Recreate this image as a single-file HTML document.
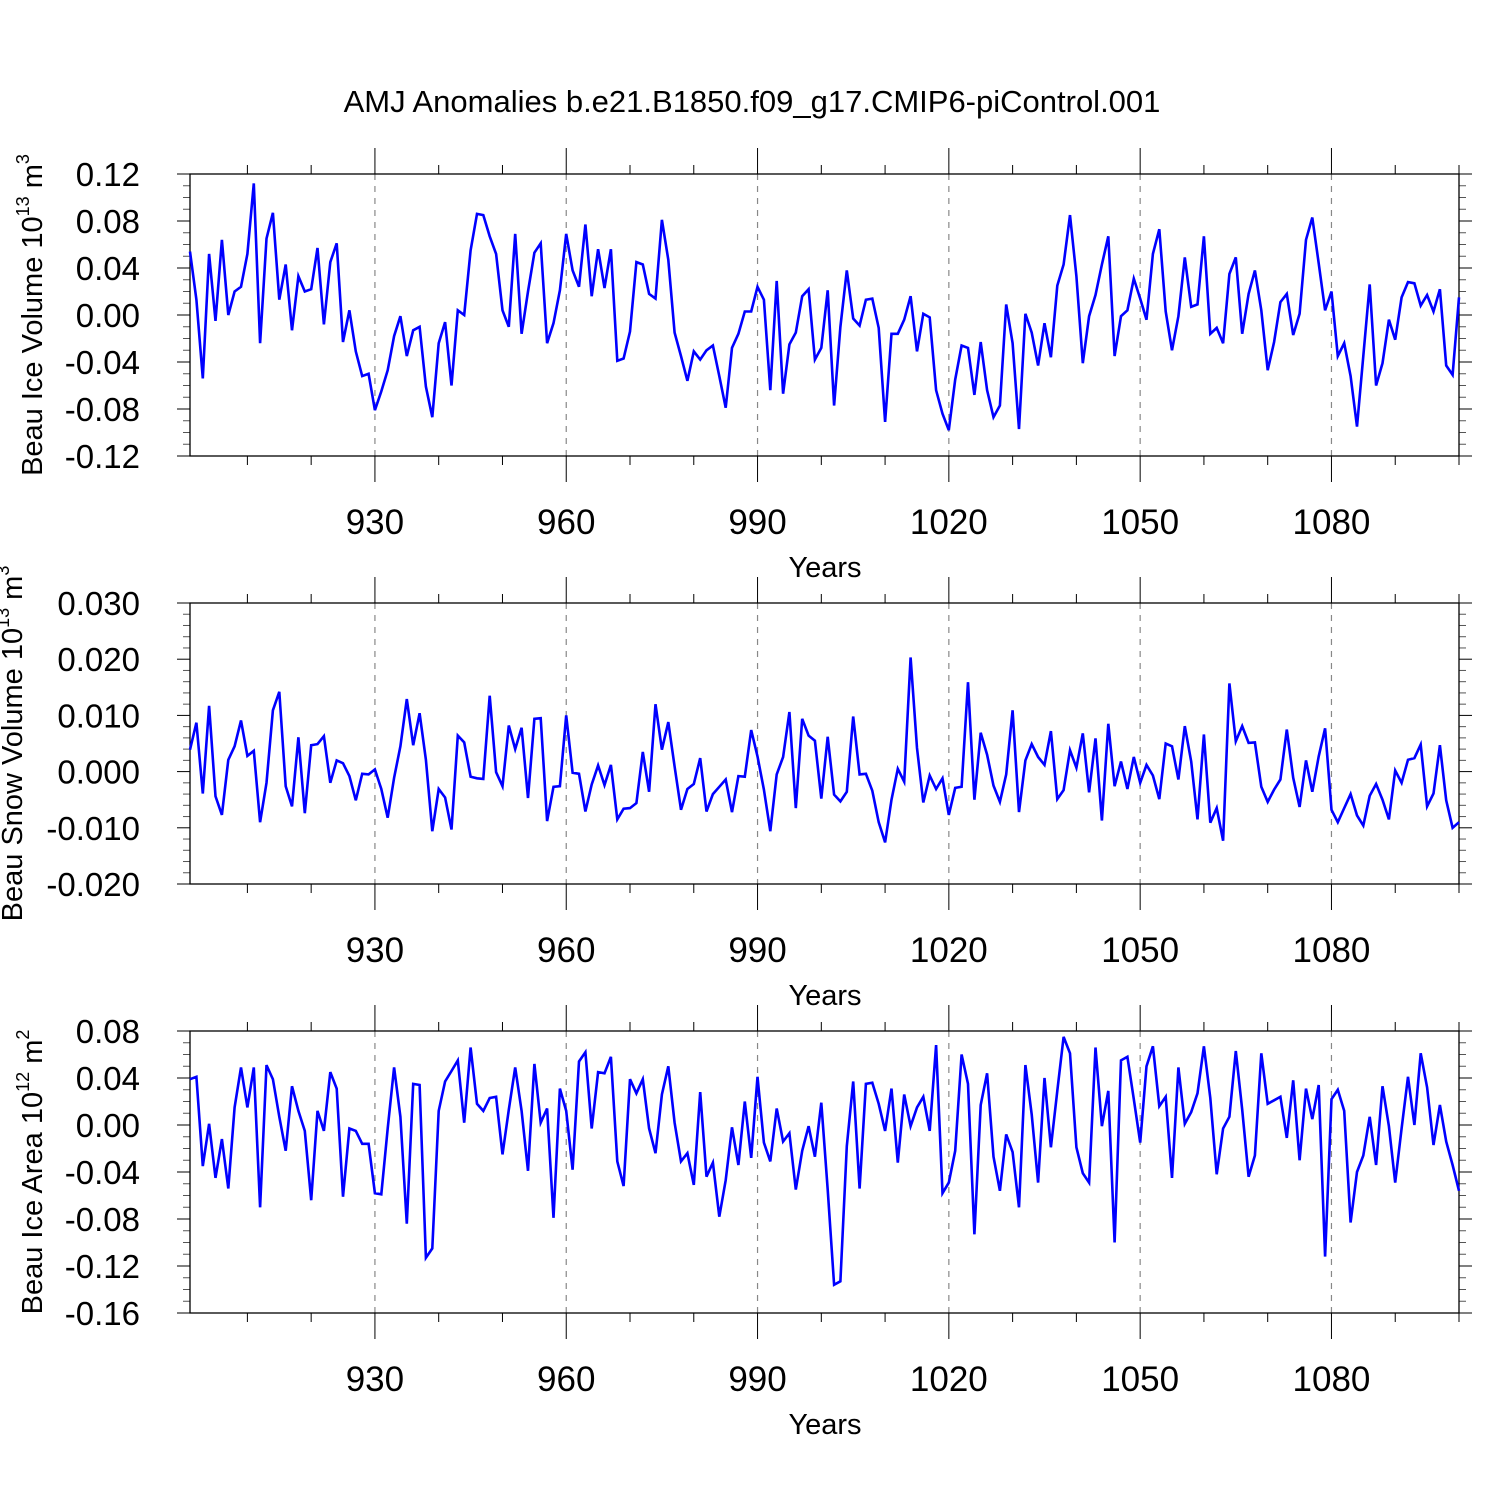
<!DOCTYPE html>
<html><head><meta charset="utf-8"><style>
html,body{margin:0;padding:0;background:#fff}
svg{display:block;font-family:"Liberation Sans",sans-serif}
</style></head><body>
<svg id="chart" width="1500" height="1500" viewBox="0 0 1500 1500">
<text x="752" y="112" font-size="31" text-anchor="middle">AMJ Anomalies b.e21.B1850.f09_g17.CMIP6-piControl.001</text>
</svg>
<script>
const years = [];
for (let y = 901; y <= 1100; y++) years.push(y);
const xTickLabels = [930, 960, 990, 1020, 1050, 1080];
const iceVolume = [0.054,0.013,-0.054,0.052,-0.005,0.064,0.000,0.020,0.024,0.052,0.112,-0.024,0.065,0.087,0.013,0.043,-0.013,0.033,0.020,0.022,0.057,-0.008,0.045,0.061,-0.023,0.004,-0.031,-0.052,-0.050,-0.081,-0.065,-0.047,-0.018,-0.001,-0.035,-0.013,-0.010,-0.061,-0.087,-0.024,-0.006,-0.060,0.004,0.000,0.055,0.086,0.085,0.067,0.052,0.004,-0.010,0.069,-0.016,0.020,0.053,0.061,-0.024,-0.007,0.021,0.069,0.038,0.024,0.077,0.016,0.056,0.023,0.056,-0.039,-0.037,-0.014,0.045,0.043,0.018,0.014,0.081,0.047,-0.015,-0.035,-0.056,-0.031,-0.038,-0.030,-0.026,-0.052,-0.079,-0.028,-0.016,0.003,0.003,0.024,0.013,-0.064,0.029,-0.067,-0.025,-0.015,0.016,0.022,-0.038,-0.028,0.021,-0.077,-0.010,0.038,-0.003,-0.009,0.013,0.014,-0.011,-0.091,-0.016,-0.016,-0.004,0.016,-0.031,0.001,-0.002,-0.064,-0.084,-0.098,-0.055,-0.026,-0.028,-0.068,-0.023,-0.064,-0.087,-0.077,0.009,-0.024,-0.097,0.001,-0.015,-0.043,-0.007,-0.036,0.025,0.043,0.085,0.033,-0.041,-0.001,0.017,0.043,0.067,-0.035,-0.001,0.004,0.031,0.014,-0.004,0.052,0.073,0.003,-0.030,-0.001,0.049,0.007,0.009,0.067,-0.016,-0.011,-0.024,0.035,0.049,-0.016,0.018,0.038,0.004,-0.047,-0.023,0.011,0.018,-0.017,0.001,0.064,0.083,0.044,0.004,0.020,-0.035,-0.024,-0.052,-0.095,-0.035,0.026,-0.060,-0.041,-0.004,-0.021,0.015,0.028,0.027,0.008,0.017,0.003,0.022,-0.043,-0.051,0.015];
const snowVolume = [3.9,8.7,-3.9,11.7,-4.4,-7.7,2.1,4.5,9.1,2.8,3.7,-9.0,-2.0,10.9,14.2,-2.6,-6.2,6.1,-7.4,4.7,4.9,6.3,-2.0,2.0,1.5,-0.8,-5.1,-0.4,-0.5,0.4,-3.1,-8.2,-1.1,4.5,12.9,4.7,10.4,2.1,-10.6,-3.1,-4.6,-10.3,6.4,5.2,-0.9,-1.2,-1.3,13.5,-0.1,-2.6,8.2,4.0,7.8,-4.7,9.4,9.5,-8.8,-2.7,-2.6,10.0,-0.2,-0.4,-7.1,-2.3,1.1,-2.4,1.2,-8.5,-6.6,-6.5,-5.6,3.5,-3.6,12.0,3.9,8.8,0.9,-6.8,-3.1,-2.2,2.4,-7.1,-4.0,-2.7,-1.4,-7.2,-0.8,-0.9,7.4,2.7,-3.2,-10.6,-0.5,2.6,10.6,-6.5,9.4,6.4,5.5,-4.8,6.2,-4.1,-5.3,-3.6,9.8,-0.5,-0.4,-3.4,-9.0,-12.6,-5.0,0.5,-1.8,20.3,4.2,-5.5,-0.7,-3.1,-1.2,-7.7,-2.9,-2.7,15.9,-5.0,6.9,3.0,-2.5,-5.4,-0.5,10.9,-7.2,2.0,4.9,2.6,1.2,7.2,-4.9,-3.3,3.8,0.7,6.8,-3.7,5.9,-8.7,8.5,-2.6,1.8,-3.1,2.6,-2.0,1.2,-0.7,-4.9,5.0,4.5,-1.4,8.1,1.8,-8.5,6.6,-9.1,-6.5,-12.3,15.7,5.4,8.1,5.1,5.2,-2.7,-5.4,-3.2,-1.4,7.5,-1.1,-6.3,2.0,-3.6,2.7,7.7,-6.8,-9.0,-6.5,-4.0,-7.8,-9.6,-4.3,-2.2,-5.0,-8.5,0.2,-2.0,2.1,2.4,4.8,-6.2,-3.9,4.7,-5.1,-10.0,-9.0].map(v => v / 1000);
const iceArea = [3.9,4.1,-3.5,0.1,-4.5,-1.2,-5.4,1.5,4.9,1.5,4.9,-7.0,5.1,3.9,0.7,-2.2,3.3,1.2,-0.5,-6.4,1.2,-0.5,4.5,3.1,-6.1,-0.3,-0.5,-1.6,-1.6,-5.8,-5.9,-0.3,4.9,0.7,-8.4,3.5,3.4,-11.3,-10.5,1.2,3.7,4.6,5.5,0.2,6.6,1.8,1.2,2.3,2.4,-2.5,1.3,4.9,1.2,-3.9,5.2,0.2,1.4,-7.9,3.1,1.2,-3.8,5.4,6.2,-0.3,4.5,4.4,5.8,-3.1,-5.2,3.9,2.7,3.9,-0.3,-2.4,2.6,5.0,0.2,-3.1,-2.4,-5.1,2.8,-4.4,-3.2,-7.8,-4.7,-0.2,-3.4,2.0,-2.8,4.1,-1.5,-3.1,1.4,-1.4,-0.7,-5.5,-2.2,-0.1,-2.7,1.9,-5.5,-13.6,-13.3,-1.8,3.7,-5.4,3.5,3.6,1.8,-0.5,3.1,-3.2,2.6,-0.1,1.5,2.4,-0.5,6.8,-5.8,-4.9,-2.2,6.0,3.5,-9.3,1.7,4.4,-2.7,-5.6,-0.8,-2.3,-7.0,5.1,0.9,-4.9,4.0,-1.9,2.9,7.5,6.1,-1.9,-4.1,-4.9,6.6,-0.1,2.9,-10.0,5.5,5.8,2.2,-1.5,5.0,6.7,1.6,2.4,-4.5,4.9,0.1,1.1,2.7,6.7,2.3,-4.2,-0.3,0.7,6.3,1.3,-4.4,-2.6,6.1,1.8,2.1,2.4,-1.1,3.8,-3.0,3.1,0.5,3.4,-11.2,2.2,3.0,1.2,-8.3,-4.0,-2.6,0.7,-3.4,3.3,-0.1,-4.9,-0.3,4.1,0.0,6.1,3.2,-1.7,1.7,-1.4,-3.4,-5.6].map(v => v / 100);
const ticks1 = ["0.12","0.08","0.04","0.00","-0.04","-0.08","-0.12"];
const ticks2 = ["0.030","0.020","0.010","0.000","-0.010","-0.020"];
const ticks3 = ["0.08","0.04","0.00","-0.04","-0.08","-0.12","-0.16"];

const NS = "http://www.w3.org/2000/svg";
const svg = document.getElementById('chart');
const X0 = 190, X1 = 1459, YR0 = 901, YR1 = 1100;
function xScale(yr){ return X0 + (yr - YR0) * (X1 - X0) / (YR1 - YR0); }
function mk(tag, attrs, parent){
  const e = document.createElementNS(NS, tag);
  for (const k in attrs) e.setAttribute(k, attrs[k]);
  (parent || svg).appendChild(e);
  return e;
}
function panel(cfg){
  const g = mk('g', {});
  
  
  const top = cfg.top, bot = cfg.bot, vmax = cfg.vmax, vmin = cfg.vmin;
  const yScale = v => top + (vmax - v) * (bot - top) / (vmax - vmin);
  xTickLabels.forEach(t => {
    const l = mk('line', {x1: xScale(t), x2: xScale(t), y1: top, y2: bot, stroke: '#888', 'stroke-width': 1.2, 'stroke-dasharray': '6,6'}, g);
    
    
  });
  for (let t = 910; t <= 1100; t += 10) {
    const major = xTickLabels.includes(t);
    const len = major ? 26 : 9;
    const a = mk('line', {x1: xScale(t), x2: xScale(t), y1: top - len, y2: top, stroke: '#000', 'stroke-width': 1}, g);
    
    
    const b = mk('line', {x1: xScale(t), x2: xScale(t), y1: bot, y2: bot + len, stroke: '#000', 'stroke-width': 1}, g);
    
    
  }
  xTickLabels.forEach(t => {
    const tx = mk('text', {x: xScale(t), y: bot + 78, 'font-size': 35, 'text-anchor': 'middle'}, g);
    
    
    tx.textContent = t;
  });
  const nMinor = cfg.minorCount;
  for (let i = 0; i <= nMinor; i++) {
    const yy = top + i * (bot - top) / nMinor;
    const major = i % cfg.minorPerMajor === 0;
    const len = major ? 13 : 7;
    const a = mk('line', {x1: X0 - len, x2: X0, y1: yy, y2: yy, stroke: major ? '#000' : '#555', 'stroke-width': 1}, g);
    
    
    const b = mk('line', {x1: X1, x2: X1 + len, y1: yy, y2: yy, stroke: major ? '#000' : '#555', 'stroke-width': 1}, g);
    
    
  }
  cfg.ticks.forEach((lab, i) => {
    const yy = top + i * (bot - top) / (cfg.ticks.length - 1);
    const tx = mk('text', {x: 140, y: yy + 12, 'font-size': 33, 'text-anchor': 'end'}, g);
    
    
    tx.textContent = lab;
  });
  const fr = mk('rect', {x: X0, y: top, width: X1 - X0, height: bot - top, fill: 'none', stroke: '#000', 'stroke-width': 1.3}, g);
  
  
  const pts = cfg.data.map((v, i) => xScale(years[i]).toFixed(1) + ',' + yScale(v).toFixed(1)).join(' ');
  const pl = mk('polyline', {points: pts, fill: 'none', stroke: '#0000ff', 'stroke-width': 2.6, 'stroke-linejoin': 'miter'}, g);
  
  
  const xt = mk('text', {x: 825, y: bot + 121, 'font-size': 29, 'text-anchor': 'middle'}, g);
  
  
  xt.textContent = 'Years';
  const cy = (top + bot) / 2;
  const yt = mk('text', {x: 0, y: 0, 'font-size': 29, 'text-anchor': 'middle', transform: 'translate(' + cfg.titleX + ',' + cy + ') rotate(-90)'}, g);
  
  
  yt.appendChild(document.createTextNode(cfg.title + ' 10'));
  const s1 = mk('tspan', {'font-size': 18, dy: -13}, yt); s1.textContent = cfg.exp;
  const s2 = mk('tspan', {'font-size': 29, dy: 13}, yt); s2.textContent = ' m';
  const s3 = mk('tspan', {'font-size': 18, dy: -13}, yt); s3.textContent = cfg.unitExp;
}
panel({name: 'ice-volume-panel', top: 174, bot: 456, vmax: 0.12, vmin: -0.12, data: iceVolume, ticks: ticks1, minorCount: 24, minorPerMajor: 4, title: 'Beau Ice Volume', exp: '13', unitExp: '3', titleX: 42});
panel({name: 'snow-volume-panel', top: 603, bot: 884, vmax: 0.030, vmin: -0.020, data: snowVolume, ticks: ticks2, minorCount: 25, minorPerMajor: 5, title: 'Beau Snow Volume', exp: '13', unitExp: '3', titleX: 22});
panel({name: 'ice-area-panel', top: 1031, bot: 1313, vmax: 0.08, vmin: -0.16, data: iceArea, ticks: ticks3, minorCount: 24, minorPerMajor: 4, title: 'Beau Ice Area', exp: '12', unitExp: '2', titleX: 42});
</script>
</body></html>
